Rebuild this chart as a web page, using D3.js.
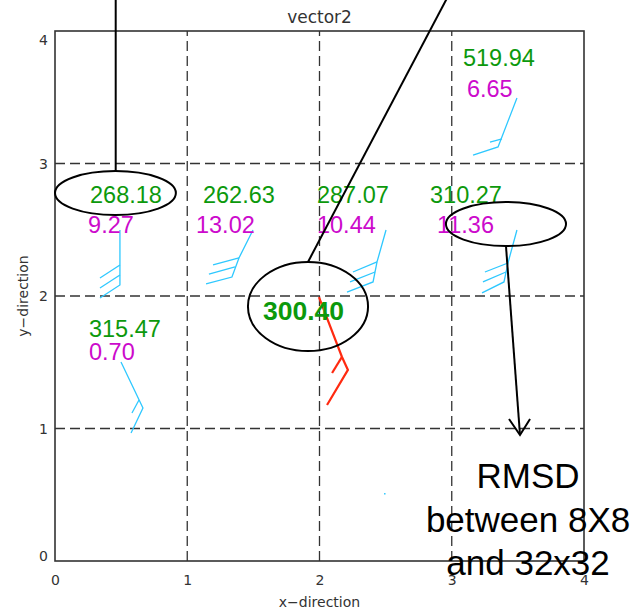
<!DOCTYPE html>
<html><head><meta charset="utf-8">
<script src="https://cdn.jsdelivr.net/npm/d3@7"></script>
<style>html,body{margin:0;padding:0;background:#fff;}</style>
</head><body>
<svg id="chart" width="636" height="613"></svg>
<script>
// ---- data ----
const xTicks = [0, 1, 2, 3, 4];
const yTicks = [0, 1, 2, 3, 4];
const gridLines = [1, 2, 3];

// green labels (value, x, y in data units; left/baseline anchor)
const greenLabels = ["268.18", "262.63", "287.07", "310.27", "519.94", "315.47"];
const greenX = [0.265, 1.119, 1.981, 2.836, 3.085, 0.257];
const greenY = [2.702, 2.702, 2.702, 2.702, 3.736, 1.691];
const highlightLabel = "300.40";
const highlightX = 1.573, highlightY = 1.819;

// magenta labels
const magentaLabels = ["9.27", "13.02", "10.44", "11.36", "6.65", "0.70"];
const magentaX = [0.250, 1.066, 1.981, 2.888, 3.115, 0.257];
const magentaY = [2.475, 2.475, 2.475, 2.475, 3.502, 1.517];

// wind-barb polylines (data units)
const cyanBarbs = [
  [[0.491,2.498],[0.491,2.083],[0.340,1.985]],
  [[0.491,2.234],[0.340,2.136]],
  [[0.491,2.158],[0.340,2.060]],

  [[1.497,2.498],[1.391,2.287],[1.338,2.143],[1.142,2.091]],
  [[1.391,2.287],[1.195,2.234]],
  [[1.361,2.219],[1.164,2.166]],

  [[2.503,2.498],[2.435,2.257],[2.405,2.106],[2.208,2.030]],
  [[2.435,2.257],[2.253,2.181]],
  [[2.420,2.181],[2.231,2.106]],

  [[3.493,2.498],[3.425,2.249],[3.395,2.106],[3.229,2.023]],
  [[3.425,2.249],[3.251,2.181]],
  [[3.410,2.181],[3.236,2.106]],

  [[3.493,3.494],[3.350,3.125],[3.161,3.064]],
  [[3.380,3.185],[3.289,3.162]],

  [[0.499,1.502],[0.665,1.155],[0.575,0.966]],
  [[0.635,1.215],[0.582,1.117]]
];
const redBarbs = [
  [[1.996,1.992],[2.170,1.540],[2.215,1.442],[2.057,1.177]],
  [[2.170,1.540],[2.095,1.419]]
];
const cyanDot = [2.488, 0.513];

// annotations (data units)
const ellipses = [
  {cx:0.457, cy:2.777, rx:0.457, ry:0.166},
  {cx:1.913, cy:1.921, rx:0.454, ry:0.336},
  {cx:3.410, cy:2.543, rx:0.454, ry:0.166}
];
const annoLines = [
  [[0.459,4.240],[0.459,2.943]],
  [[2.960,4.240],[1.913,2.257]],
  [[3.410,2.377],[3.516,0.951]],
  [[3.433,1.072],[3.516,0.951],[3.592,1.072]]
];
const noteLines = ["RMSD", "between 8X8", "and 32x32"];
const noteX = 3.577;
const noteY = [0.551, 0.219, -0.106];

// ---- drawing ----
const svg = d3.select("#chart");
svg.append("rect").attr("width",636).attr("height",613).attr("fill","#fff");

const x = d3.scaleLinear().domain([0,4]).range([55,584]);
const y = d3.scaleLinear().domain([0,4]).range([561,31]);

// grid
const g = svg.append("g");
g.selectAll(".gx").data(gridLines).join("line")
  .attr("x1", d=>x(d)).attr("x2", d=>x(d)).attr("y1", y(0)).attr("y2", y(4))
  .attr("stroke","#333").attr("stroke-width",1.3).attr("stroke-dasharray","10,5");
g.selectAll(".gy").data(gridLines).join("line")
  .attr("y1", d=>y(d)).attr("y2", d=>y(d)).attr("x1", x(0)).attr("x2", x(4))
  .attr("stroke","#333").attr("stroke-width",1.3).attr("stroke-dasharray","10,5");

// frame
svg.append("rect").attr("x",x(0)).attr("y",y(4))
  .attr("width",x(4)-x(0)).attr("height",y(0)-y(4))
  .attr("fill","none").attr("stroke","#333").attr("stroke-width",1.6);

// axes (labels only)
const fontAxis = "DejaVu Sans, sans-serif";
const xAxis = svg.append("g").attr("transform",`translate(0,${y(0)})`)
  .call(d3.axisBottom(x).tickValues(xTicks).tickFormat(d3.format("d")).tickSize(0).tickPadding(14));
xAxis.select(".domain").remove();
xAxis.selectAll("text").attr("font-family",fontAxis).attr("font-size",14).attr("fill","#333");

const yAxis = svg.append("g").attr("transform",`translate(${x(0)},0)`)
  .call(d3.axisLeft(y).tickValues(yTicks).tickFormat(d3.format("d")).tickSize(0).tickPadding(7));
yAxis.select(".domain").remove();
yAxis.selectAll("text").attr("font-family",fontAxis).attr("font-size",14).attr("fill","#333")
  .attr("dy", d => d===4 ? "0.95em" : (d===0 ? "-0.05em" : "0.35em"));

// title and axis titles
svg.append("text").attr("x",(x(0)+x(4))/2).attr("y",23).attr("text-anchor","middle")
  .attr("font-family",fontAxis).attr("font-size",17).attr("fill","#333").text("vector2");
svg.append("text").attr("x",(x(0)+x(4))/2).attr("y",607).attr("text-anchor","middle")
  .attr("font-family",fontAxis).attr("font-size",14).attr("fill","#333").text("x\u2212direction");
svg.append("text").attr("transform",`translate(28,${(y(0)+y(4))/2}) rotate(-90)`).attr("text-anchor","middle")
  .attr("font-family",fontAxis).attr("font-size",14).attr("fill","#333").text("y\u2212direction");

// barbs
const line = d3.line().x(d=>x(d[0])).y(d=>y(d[1]));
svg.append("g").selectAll("path").data(cyanBarbs).join("path")
  .attr("d", line).attr("fill","none").attr("stroke","#2ec8ff").attr("stroke-width",1.3);
svg.append("g").selectAll("path").data(redBarbs).join("path")
  .attr("d", line).attr("fill","none").attr("stroke","#ff2a10").attr("stroke-width",2.2);
svg.append("rect").attr("x",x(cyanDot[0])).attr("y",y(cyanDot[1])).attr("width",1.5).attr("height",1.5).attr("fill","#2ec8ff");

// labels
const fontNum = "Liberation Sans, Arial, sans-serif";
svg.append("g").selectAll("text").data(greenLabels).join("text")
  .attr("x",(d,i)=>x(greenX[i])).attr("y",(d,i)=>y(greenY[i]))
  .attr("font-family",fontNum).attr("font-size",23.5).attr("fill","#0c990c").text(d=>d);
svg.append("g").selectAll("text").data(magentaLabels).join("text")
  .attr("x",(d,i)=>x(magentaX[i])).attr("y",(d,i)=>y(magentaY[i]))
  .attr("font-family",fontNum).attr("font-size",23.5).attr("fill","#cc0acc").text(d=>d);
svg.append("text").attr("x",x(highlightX)).attr("y",y(highlightY))
  .attr("font-family",fontNum).attr("font-size",26.5).attr("font-weight","bold").attr("fill","#0c990c").text(highlightLabel);

// annotations
svg.append("g").selectAll("ellipse").data(ellipses).join("ellipse")
  .attr("cx",d=>x(d.cx)).attr("cy",d=>y(d.cy))
  .attr("rx",d=>x(d.rx)-x(0)).attr("ry",d=>y(0)-y(d.ry))
  .attr("fill","none").attr("stroke","#000").attr("stroke-width",2);
svg.append("g").selectAll("path").data(annoLines).join("path")
  .attr("d", line).attr("fill","none").attr("stroke","#000").attr("stroke-width",2);
svg.append("g").selectAll("text").data(noteLines).join("text")
  .attr("x",x(noteX)).attr("y",(d,i)=>y(noteY[i])).attr("text-anchor","middle")
  .attr("font-family",fontNum).attr("font-size",35).attr("fill","#000").text(d=>d);
</script>
</body></html>
